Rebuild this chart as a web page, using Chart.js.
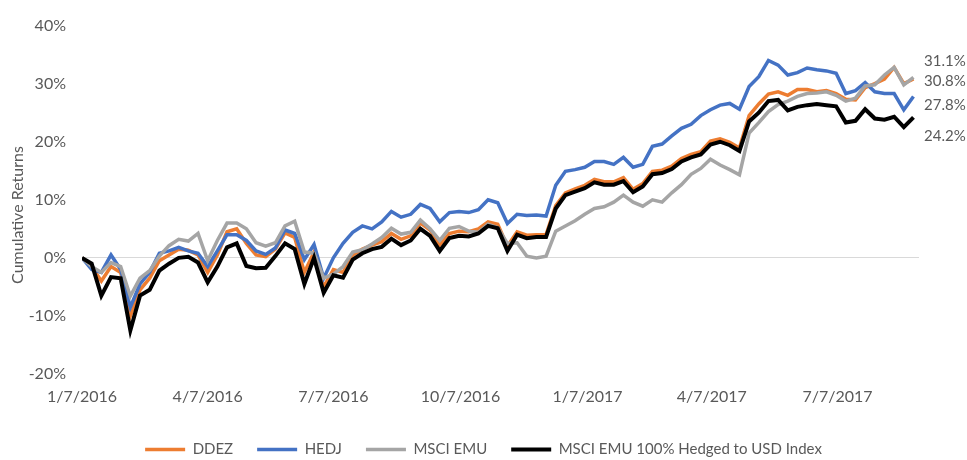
<!DOCTYPE html>
<html>
<head>
<meta charset="utf-8">
<script src="https://cdn.jsdelivr.net/npm/chart.js@4/dist/chart.umd.min.js"></script>
<style>
  html, body { margin: 0; padding: 0; background: #fff; }
</style>
</head>
<body>
<canvas id="returnsChart" width="967" height="460"></canvas>
<script>
// weekly observations starting 1/7/2016 (x = days since start)
const stepDays = 7;

const xTickDays   = [0, 91, 182, 274, 366, 456, 547];
const xTickLabels = ['1/7/2016', '4/7/2016', '7/7/2016', '10/7/2016', '1/7/2017', '4/7/2017', '7/7/2017'];

const ddez = [
  0, -1.5, -4, -1.5, -2.5, -10, -5.5, -3.5, -0.5, 0.5,
  1.5, 1.3, 0.5, -2.5, 0.5, 4.5, 5, 2.5, 0.5, 0.2,
  1.5, 4.3, 3.5, -2.5, 1, -5, -2, -2.5, 0.5, 1.5,
  2.2, 2.8, 4.2, 3.2, 3.8, 6, 4.8, 2.2, 4.2, 4.6,
  4.5, 5, 6.2, 5.8, 2, 4.5, 3.9, 4, 4, 9,
  11.2, 11.9, 12.5, 13.5, 13.1, 13.1, 13.8, 11.8, 12.8, 14.9,
  15.1, 15.8, 17.1, 17.8, 18.3, 20.1, 20.5, 19.9, 18.9, 24.5,
  26.5, 28.2, 28.6, 28, 29, 29, 28.6, 28.8, 28.3, 27.3,
  27.2, 29.3, 30, 30.8, 32.8, 30, 30.8
];
const hedj = [
  0, -2, -2.5, 0.5, -2, -8.5, -4.5, -2.5, 0.8, 1.2,
  1.8, 1.2, 0.8, -1.5, 1.2, 4, 4, 3, 1.2, 0.6,
  1.7, 4.8, 4.2, -0.3, 2.3, -3.5, 0, 2.5, 4.4, 5.5,
  5, 6.2, 8, 7, 7.5, 9.2, 8.5, 6.2, 7.8, 8,
  7.8, 8.3, 10, 9.5, 5.9, 7.5, 7.3, 7.4, 7.2, 12.5,
  14.9, 15.2, 15.6, 16.6, 16.6, 16.1, 17.3, 15.6, 16.1, 19.2,
  19.6, 21, 22.3, 23, 24.5, 25.5, 26.3, 26.6, 25.6, 29.5,
  31.2, 34, 33.2, 31.5, 31.9, 32.7, 32.4, 32.2, 31.8, 28.3,
  28.8, 30.2, 28.6, 28.3, 28.3, 25.5, 27.8
];
const msciEmu = [
  0, -1.5, -2.5, -0.8, -1.5, -6.6, -3.5, -2.2, 0.3, 2.1,
  3.2, 2.9, 4.2, -0.5, 3, 6, 6, 5, 2.6, 2,
  2.6, 5.5, 6.3, 1, 0.8, -3.5, -2.8, -1.5, 1, 1.4,
  2.4, 3.5, 5.1, 4.1, 4.4, 6.5, 5, 3, 5.1, 5.4,
  4.6, 4.4, 5.8, 5.2, 2.5, 2.6, 0.3, 0, 0.3, 4.6,
  5.5, 6.4, 7.5, 8.5, 8.8, 9.6, 10.8, 9.6, 8.9, 10,
  9.6, 11.2, 12.6, 14.4, 15.4, 17, 16, 15.2, 14.3, 21.5,
  23.3, 25.2, 26.4, 27, 27.8, 28.3, 28.4, 28.6, 28, 27,
  27.5, 29.6, 29.8, 31.5, 32.8, 29.8, 31.1
];
const msciEmuHedged = [
  0, -1, -6.5, -3.3, -3.5, -12.5, -6.5, -5.5, -2.2, -1,
  0, 0.2, -0.8, -4.2, -1.5, 1.8, 2.5, -1.4, -1.8, -1.7,
  0.3, 2.5, 1.5, -4.5, 0, -6, -3, -3.4, -0.3, 0.8,
  1.5, 1.9, 3.3, 2.2, 3, 5, 3.8, 1.2, 3.4, 3.8,
  3.7, 4.2, 5.5, 5.1, 1.2, 4, 3.4, 3.6, 3.6, 8.5,
  10.8, 11.4, 12, 13, 12.6, 12.6, 13.2, 11.3, 12.3, 14.4,
  14.6, 15.3, 16.6, 17.3, 17.8, 19.5, 20, 19.4, 18.4, 23.5,
  25, 27, 27.2, 25.4, 26, 26.3, 26.5, 26.3, 26.1, 23.3,
  23.6, 25.6, 24, 23.8, 24.3, 22.5, 24.2
];

const palette = {
  orange: '#ED7D31',
  blue:   '#4472C4',
  gray:   '#A5A5A5',
  black:  '#000000',
  text:   '#595959',
  zero:   '#D9D9D9'
};

const FONT = "Lato, 'Open Sans', sans-serif";

const toPoints = vals => vals.map((v, i) => ({ x: i * stepDays, y: v }));

// end-of-line value labels + y axis title (sits a bit below centre, like the original)
const annotations = {
  id: 'annotations',
  afterDatasetsDraw(chart, args, opts) {
    const ctx = chart.ctx;
    ctx.save();
    ctx.fillStyle = palette.text;
    ctx.textBaseline = 'middle';
    ctx.font = '15px ' + FONT;
    ctx.textAlign = 'left';
    chart.data.datasets.forEach((ds, di) => {
      const meta = chart.getDatasetMeta(di);
      const last = meta.data[meta.data.length - 1];
      const val = ds.data[ds.data.length - 1].y;
      ctx.fillText(val.toFixed(1) + '%', chart.chartArea.right + 5, last.y + opts.shift[di]);
    });

    ctx.font = '16px ' + FONT;
    ctx.textAlign = 'center';
    ctx.translate(18, 215);
    ctx.rotate(-Math.PI / 2);
    ctx.fillText('Cumulative Returns', 0, 0);
    ctx.restore();
  }
};

new Chart(document.getElementById('returnsChart'), {
  type: 'line',
  data: {
    datasets: [
      { label: 'DDEZ', data: toPoints(ddez), borderColor: palette.orange, backgroundColor: palette.orange, borderWidth: 3.5, order: 3 },
      { label: 'HEDJ', data: toPoints(hedj), borderColor: palette.blue, backgroundColor: palette.blue, borderWidth: 3.5, order: 2 },
      { label: 'MSCI EMU', data: toPoints(msciEmu), borderColor: palette.gray, backgroundColor: palette.gray, borderWidth: 3.5, order: 1 },
      { label: 'MSCI EMU 100% Hedged to USD Index', data: toPoints(msciEmuHedged), borderColor: palette.black, backgroundColor: palette.black, borderWidth: 4, order: 0 }
    ]
  },
  options: {
    responsive: false,
    animation: false,
    elements: { point: { radius: 0 }, line: { tension: 0 } },
    layout: { padding: { left: 0, right: 0, top: 24, bottom: -7 } },
    plugins: {
      legend: {
        position: 'bottom',
        labels: {
          usePointStyle: true,
          pointStyle: 'line',
          pointStyleWidth: 40,
          boxHeight: 15,
          padding: 24,
          color: palette.text,
          font: { family: FONT, size: 15 },
          sort: (a, b) => a.datasetIndex - b.datasetIndex
        }
      },
      tooltip: { enabled: false },
      annotations: { shift: [2, 9, -16, 19] }
    },
    scales: {
      x: {
        type: 'linear',
        min: 0,
        max: 606,
        grid: { display: false },
        border: { display: false },
        afterBuildTicks: s => { s.ticks = xTickDays.map(v => ({ value: v })); },
        afterFit: s => { s.height = 44; },
        ticks: {
          autoSkip: false,
          maxRotation: 0,
          padding: 5,
          color: palette.text,
          font: { family: FONT, size: 16 },
          callback: v => xTickLabels[xTickDays.indexOf(v)]
        }
      },
      y: {
        min: -20,
        max: 40,
        grid: {
          drawTicks: false,
          color: c => (c.tick && c.tick.value === 0 ? palette.zero : 'transparent')
        },
        border: { display: false },
        afterFit: s => { s.width = 82; },
        ticks: {
          stepSize: 10,
          padding: 16,
          color: palette.text,
          font: { family: FONT, size: 16 },
          callback: v => v + '%'
        }
      },
      // empty right-hand strip that holds the end labels
      yRight: {
        position: 'right',
        min: -20,
        max: 40,
        grid: { display: false },
        border: { display: false },
        ticks: { display: false },
        afterFit: s => { s.width = 48; }
      }
    }
  },
  plugins: [annotations]
});
</script>
</body>
</html>
